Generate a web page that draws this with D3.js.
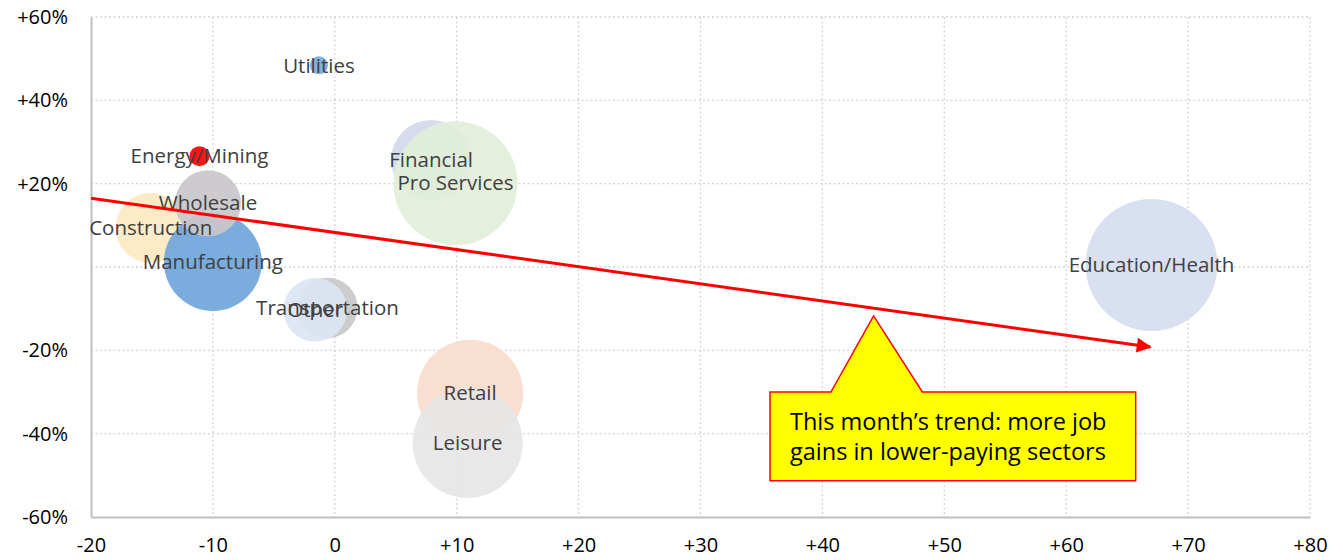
<!DOCTYPE html>
<html>
<head>
<meta charset="utf-8">
<script src="https://cdn.jsdelivr.net/npm/d3@7"></script>
<style>
  body { margin: 0; background: #fff; }
  svg { display: block; font-family: "Open Sans", sans-serif; }
</style>
</head>
<body>
<div id="chart"></div>
<script>
// sectors: x = job gains (thousands), y = pay relative to average (%), size = employment
const sectors = ["Construction", "Manufacturing", "Wholesale", "Energy/Mining", "Utilities",
  "Financial", "Pro Services", "Transportation", "Other", "Retail", "Leisure", "Education/Health"];
const jobGains = [-15.1, -10, -10.4, -11.1, -1.3, 7.9, 9.9, -0.6, -1.6, 11.1, 10.9, 67];
const payPremium = [9.4, 1.2, 15.3, 26.6, 48.4, 25.7, 20.1, -9.8, -10.3, -30.2, -42.2, 0.5];
const employment = [6.8, 13.2, 6.0, 0.55, 0.45, 8.8, 21.2, 5.0, 5.6, 15.5, 16.7, 24];
const colors = ["#fde9c3", "#6fa5db", "#c9c7c9", "#ff0000", "#7aa9dc",
  "#d3d9e9", "#e2eed9", "#c8c8c8", "#dbe6f3", "#f9dccb", "#e6e6e6", "#d6ddf0"];

const xTicks = [-20, -10, 0, 10, 20, 30, 40, 50, 60, 70, 80];
const yTicks = [-60, -40, -20, 0, 20, 40, 60];
const yTickLabels = ["-60%", "-40%", "-20%", "", "+20%", "+40%", "+60%"];

const trendX = [-20, 66.9];
const trendY = [16.5, -19.2];

const calloutText = ["This month\u2019s trend: more job", "gains in lower-paying sectors"];
const calloutBox = {x0: 35.7, x1: 65.7, y0: -30, y1: -51.3};
const calloutPointer = [[40.7, -30], [44.2, -11.75], [48.2, -30]];

const W = 1343, H = 560;
const margin = {top: 17, right: 33, bottom: 43, left: 91};

const svg = d3.select("#chart").append("svg")
  .attr("width", W).attr("height", H);

const x = d3.scaleLinear().domain([-20, 80]).range([margin.left, W - margin.right]);
const y = d3.scaleLinear().domain([-60, 60]).range([H - margin.bottom, margin.top]);
const r = d3.scaleSqrt().domain([0, d3.max(employment)]).range([0, 66]);

// grid
const grid = svg.append("g").attr("stroke", "#d4d4d4").attr("stroke-width", 1.3)
  .attr("stroke-dasharray", "2,2.5");
grid.selectAll(".gx").data(xTicks.slice(1)).join("line")
  .attr("x1", d => x(d)).attr("x2", d => x(d))
  .attr("y1", y(60)).attr("y2", y(-60));
grid.selectAll(".gy").data(yTicks.slice(1)).join("line")
  .attr("y1", d => y(d)).attr("y2", d => y(d))
  .attr("x1", x(-20)).attr("x2", x(80));

// axes
const xAxis = d3.axisBottom(x).tickValues(xTicks).tickSize(0).tickPadding(21)
  .tickFormat(d => d > 0 ? "+" + d : d);
const yAxis = d3.axisLeft(y).tickValues(yTicks).tickSize(0).tickPadding(23)
  .tickFormat((d, i) => yTickLabels[i]);

svg.append("g").attr("transform", `translate(0,${y(-60)})`).call(xAxis)
  .call(g => g.select(".domain").attr("stroke", "#bfbfbf").attr("stroke-width", 2))
  .selectAll("text").attr("font-size", 20).attr("fill", "#000")
  .attr("font-family", "'Open Sans', sans-serif");
svg.append("g").attr("transform", `translate(${x(-20)},0)`).call(yAxis)
  .call(g => g.select(".domain").attr("stroke", "#bfbfbf").attr("stroke-width", 2))
  .selectAll("text").attr("font-size", 20).attr("fill", "#000")
  .attr("font-family", "'Open Sans', sans-serif");

// bubbles
const data = sectors.map((s, i) => ({name: s, x: jobGains[i], y: payPremium[i],
  size: employment[i], color: colors[i]}));

svg.append("g").selectAll("circle").data(data).join("circle")
  .attr("cx", d => x(d.x)).attr("cy", d => y(d.y)).attr("r", d => r(d.size))
  .attr("fill", d => d.color).attr("fill-opacity", 0.92);

svg.append("g").selectAll("text").data(data).join("text")
  .attr("x", d => x(d.x)).attr("y", d => y(d.y))
  .attr("dy", "0.35em").attr("text-anchor", "middle")
  .attr("font-size", 20.5).attr("fill", "#404040")
  .text(d => d.name);

// trend arrow
svg.append("defs").append("marker")
  .attr("id", "arrow").attr("viewBox", "0 0 10 10")
  .attr("refX", 9).attr("refY", 5)
  .attr("markerWidth", 6).attr("markerHeight", 5)
  .attr("markerUnits", "strokeWidth").attr("orient", "auto")
  .append("path").attr("d", "M0,0L10,5L0,10Z").attr("fill", "#ff0000");

svg.append("line")
  .attr("x1", x(trendX[0])).attr("y1", y(trendY[0]))
  .attr("x2", x(trendX[1])).attr("y2", y(trendY[1]))
  .attr("stroke", "#ff0000").attr("stroke-width", 3)
  .attr("marker-end", "url(#arrow)");

// callout
const bx0 = x(calloutBox.x0), bx1 = x(calloutBox.x1);
const by0 = y(calloutBox.y0), by1 = y(calloutBox.y1);
const p = calloutPointer.map(d => [x(d[0]), y(d[1])]);
const path = d3.path();
path.moveTo(bx0, by0);
path.lineTo(p[0][0], p[0][1]);
path.lineTo(p[1][0], p[1][1]);
path.lineTo(p[2][0], p[2][1]);
path.lineTo(bx1, by0);
path.lineTo(bx1, by1);
path.lineTo(bx0, by1);
path.closePath();
svg.append("path").attr("d", path.toString())
  .attr("fill", "#ffff00").attr("stroke", "#ff0000").attr("stroke-width", 1.5);

svg.append("g").selectAll("text").data(calloutText).join("text")
  .attr("x", bx0 + 20).attr("y", (d, i) => by0 + 38 + i * 30)
  .attr("font-size", 23.5).attr("fill", "#000")
  .text(d => d);
</script>
</body>
</html>
